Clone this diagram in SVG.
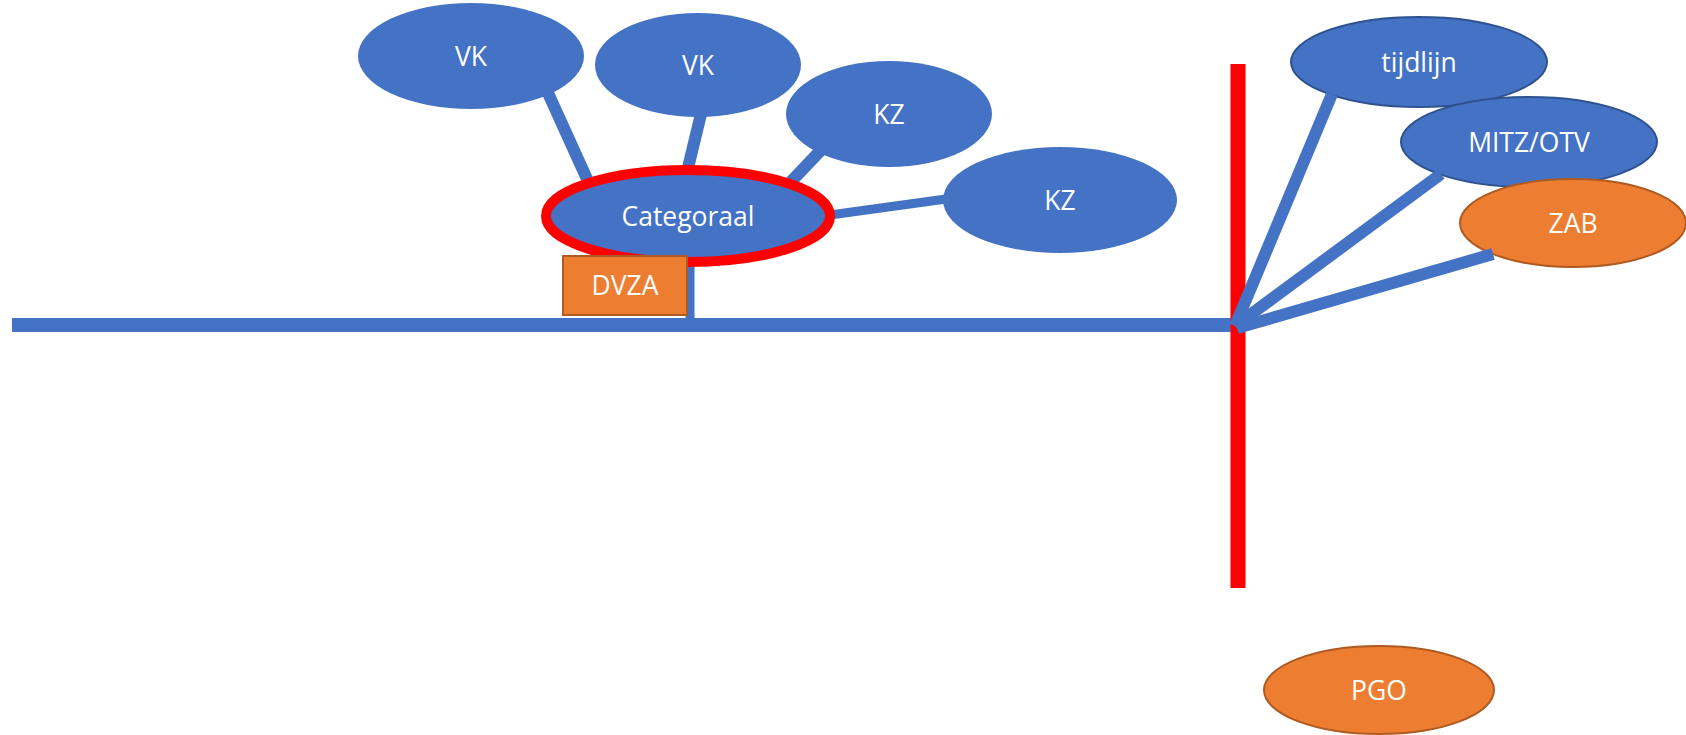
<svg xmlns="http://www.w3.org/2000/svg" width="1686" height="735" viewBox="0 0 1686 735">
<style>
.b{fill:#4472C4}
.bs{fill:#4472C4;stroke:#2F528F;stroke-width:2}
.o{fill:#ED7D31;stroke:#AE5A21;stroke-width:2}
.t{font-family:"Open Sans","Liberation Sans",sans-serif;font-size:26.5px;fill:#fff;text-anchor:middle;dominant-baseline:central}
.c{stroke:#4472C4;stroke-linecap:butt;fill:none}
</style>
<rect width="1686" height="735" fill="#fff"/>
<g id="connectors-left">
<line class="c" x1="548" y1="93" x2="592" y2="190" stroke-width="12"/>
<line class="c" x1="701" y1="114" x2="687" y2="172" stroke-width="12"/>
<line class="c" x1="823" y1="148" x2="785" y2="188" stroke-width="12"/>
<line class="c" x1="946" y1="199" x2="830" y2="215" stroke-width="9"/>
<line class="c" x1="690" y1="262" x2="690" y2="325" stroke-width="9"/>
<line class="c" x1="12" y1="325" x2="1234" y2="325" stroke-width="14"/>
</g>
<g id="node-vk1"><ellipse class="b" cx="471" cy="56" rx="113" ry="53"/><text class="t" x="471" y="56">VK</text></g>
<g id="node-vk2"><ellipse class="b" cx="698" cy="65" rx="103" ry="52"/><text class="t" x="698" y="65">VK</text></g>
<g id="node-kz1"><ellipse class="b" cx="889" cy="114" rx="103" ry="53"/><text class="t" x="889" y="114">KZ</text></g>
<g id="node-kz2"><ellipse class="b" cx="1060" cy="200" rx="117" ry="53"/><text class="t" x="1060" y="200">KZ</text></g>
<g id="node-categoraal"><ellipse class="b" cx="688" cy="216" rx="142" ry="46" stroke="#FF0000" stroke-width="10"/><text class="t" x="688" y="216">Categoraal</text></g>
<g id="node-dvza"><rect class="o" x="563" y="256" width="124" height="59"/><text class="t" x="625" y="285">DVZA</text></g>
<g id="timeline-red"><line x1="1238" y1="64" x2="1238" y2="588" stroke="#FF0000" stroke-width="15"/></g>
<g id="node-tijdlijn"><ellipse class="bs" cx="1419" cy="62" rx="128" ry="45"/><text class="t" x="1419" y="62">tijdlijn</text></g>
<g id="node-mitz"><ellipse class="bs" cx="1529" cy="142" rx="128" ry="45"/><text class="t" x="1529" y="142">MITZ/OTV</text></g>
<g id="node-zab"><ellipse class="o" cx="1573" cy="223" rx="113" ry="44"/><text class="t" x="1573" y="223">ZAB</text></g>
<g id="node-pgo"><ellipse class="o" cx="1379" cy="690" rx="115" ry="44"/><text class="t" x="1379" y="690">PGO</text></g>
<g id="connectors-right">
<line class="c" x1="1235" y1="326" x2="1332" y2="94" stroke-width="12"/>
<line class="c" x1="1235" y1="326" x2="1441" y2="174" stroke-width="12"/>
<line class="c" x1="1237" y1="328" x2="1493" y2="254" stroke-width="12"/>
</g>
</svg>
